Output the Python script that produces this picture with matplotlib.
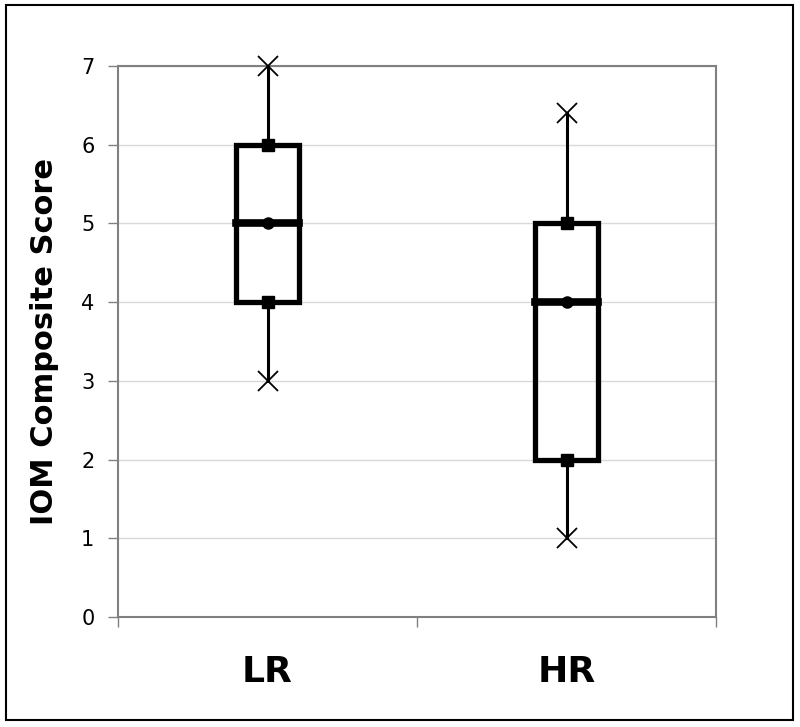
import matplotlib.pyplot as plt
from matplotlib.patches import Rectangle

plt.rcParams['font.family'] = ['DejaVu Sans']

# Data
groups = ['LR', 'HR']
mins = [3, 1]
q1s = [4, 2]
medians = [5, 4]
q3s = [6, 5]
maxs = [7, 6.4]

yticks = [0, 1, 2, 3, 4, 5, 6, 7]

fig = plt.figure(figsize=(8, 7.27), dpi=100)
ax = fig.add_axes([0.1475, 0.1513, 0.7475, 0.7579])

# outer frame around the whole figure
fig.patches.append(Rectangle((6 / 800, 1 - 720 / 727), 787 / 800, 715 / 727,
                             transform=fig.transFigure, fill=False,
                             edgecolor='black', linewidth=1.5))

positions = [0.5, 1.5]
half_w = 0.105

for x, lo, a, m, b, hi in zip(positions, mins, q1s, medians, q3s, maxs):
    # whiskers
    ax.plot([x, x], [b, hi], color='black', linewidth=2.2, zorder=3)
    ax.plot([x, x], [lo, a], color='black', linewidth=2.2, zorder=3)
    # box
    ax.add_patch(Rectangle((x - half_w, a), 2 * half_w, b - a, fill=False,
                           edgecolor='black', linewidth=3.8, zorder=4))
    # median
    ax.plot([x - half_w, x + half_w], [m, m], color='black', linewidth=5.5, zorder=5)
    # markers
    ax.plot([x, x], [a, b], linestyle='none', marker='s', markersize=8.5,
            color='black', zorder=6)
    ax.plot([x], [m], linestyle='none', marker='o', markersize=8,
            color='black', zorder=6)
    ax.plot([x, x], [lo, hi], linestyle='none', marker='x', markersize=15,
            markeredgewidth=1.3, color='black', zorder=6, clip_on=False)

ax.set_xlim(0, 2)
ax.set_ylim(0, 7)
ax.set_yticks(yticks)
ax.set_xticks([0, 1, 2])
ax.set_xticklabels([])
ax.set_xticks(positions, minor=True)
ax.set_xticklabels(groups, minor=True, fontsize=26, fontweight='bold')
ax.tick_params(axis='x', which='minor', length=0, pad=27)
ax.tick_params(axis='x', which='major', length=7, direction='out', color='#808080', width=1)
ax.tick_params(axis='y', length=7, direction='out', color='#808080', width=1,
               labelsize=15, pad=10)

ax.grid(True, axis='y', color='#d9d9d9', linewidth=1)
ax.set_axisbelow(True)
for sp in ax.spines.values():
    sp.set_color('#808080')
    sp.set_linewidth(1.5)

ax.set_ylabel('IOM Composite Score', fontsize=22, fontweight='bold', labelpad=16)

fig.savefig('out.png', dpi=100, facecolor='white')
